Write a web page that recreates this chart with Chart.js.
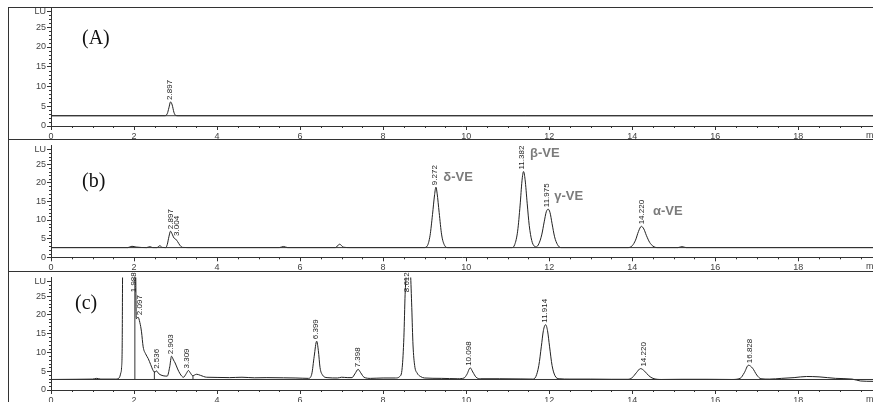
<!DOCTYPE html>
<html>
<head>
<meta charset="utf-8">
<script src="https://cdn.jsdelivr.net/npm/chart.js@4.4.0/dist/chart.umd.min.js"></script>
<style>
html,body{margin:0;padding:0;background:#fff;}
#wrap{position:relative;width:873px;height:402px;overflow:hidden;background:#fff;}
canvas{position:absolute;left:0;}
.hl{position:absolute;left:8px;width:865px;height:0;border-top:1px solid #333;}
.vl{position:absolute;left:8px;top:7px;height:395px;width:0;border-left:1px solid #333;}
.plab{position:absolute;font-family:"Liberation Serif","Times New Roman",serif;font-size:20px;line-height:20px;color:#111;}
</style>
</head>
<body>
<div id="wrap">
<canvas id="cA" width="873" height="139" style="top:0px"></canvas>
<canvas id="cB" width="873" height="132" style="top:139px"></canvas>
<canvas id="cC" width="873" height="131" style="top:271px"></canvas>
<div class="hl" style="top:7px"></div>
<div class="hl" style="top:139px"></div>
<div class="hl" style="top:271px"></div>
<div class="vl"></div>
<div class="plab" style="left:82px;top:27px">(A)</div>
<div class="plab" style="left:82px;top:170px">(b)</div>
<div class="plab" style="left:75px;top:292px">(c)</div>
</div>
<script>
// ---------- axis ticks ----------
const xTickValues = [0, 2, 4, 6, 8, 10, 12, 14, 16, 18];
const yTickValues = [0, 5, 10, 15, 20, 25, 29];
const yTickLabels = ['0', '5', '10', '15', '20', '25', 'LU'];
const X_MAX = 19.8, Y_MAX = 30;

// ---------- panel A (blank / standard solvent) ----------
const baselineA = 2.6;
const traceA = [[0,2.6],[2.74,2.6],[2.80,3.1],[2.84,4.6],[2.88,6.1],[2.92,5.3],[2.96,3.5],[3.00,2.7],[3.06,2.6],[19.8,2.6]];
const peakTimesA = [2.87];
const peakHeightsA = [6.1];
const peakTextsA = ['2.897'];

// ---------- panel b (tocopherol standards) ----------
const baselineB = 2.6;
const traceB = [[0,2.6],[1.85,2.6],[1.95,2.95],[2.05,2.75],[2.3,2.6],[2.38,2.85],[2.45,2.6],[2.55,2.6],[2.62,3.1],[2.68,2.65],
 [2.76,2.6],[2.80,3.4],[2.84,5.5],[2.88,7.0],[2.92,6.2],[2.96,5.2],[3.0,4.9],[3.05,4.2],[3.10,3.3],[3.17,2.65],[3.3,2.6],
 [5.5,2.6],[5.6,2.9],[5.7,2.6],[6.85,2.6],[6.95,3.5],[7.05,2.7],[7.2,2.6],
 [8.98,2.6],[9.06,3.0],[9.13,5.8],[9.19,11.5],[9.24,16.8],[9.272,18.8],[9.30,17.2],[9.35,12],[9.41,6.0],[9.48,3.2],[9.56,2.6],
 [11.1,2.6],[11.17,3.4],[11.24,7],[11.30,14],[11.345,20.5],[11.382,23.0],[11.42,20.8],[11.47,14.5],[11.52,8.5],[11.58,4.5],[11.64,3.0],
 [11.69,2.8],[11.75,3.6],[11.82,6.0],[11.88,9.5],[11.93,12.2],[11.975,12.9],[12.02,12.0],[12.07,9.0],[12.13,5.5],[12.20,3.4],[12.28,2.6],
 [13.9,2.6],[14.0,3.1],[14.08,4.6],[14.15,6.9],[14.22,8.3],[14.28,7.6],[14.34,5.9],[14.42,4.0],[14.5,3.0],[14.6,2.6],
 [15.1,2.6],[15.2,2.85],[15.3,2.6],[19.8,2.6]];
const peakTimesB = [2.89, 3.04, 9.25, 11.33, 11.95, 14.24];
const peakHeightsB = [7.0, 5.2, 18.8, 23.0, 12.9, 8.3];
const peakTextsB = ['2.897', '3.004', '9.272', '11.382', '11.975', '14.220'];
const compNames = ['δ-VE', 'β-VE', 'γ-VE', 'α-VE'];
const compTimes = [9.45, 11.54, 12.12, 14.5];
const compLevels = [21.4, 27.8, 16.4, 12.3];

// ---------- panel c (sample) ----------
const baselineC = 2.8;
const traceC = [[0,2.8],[0.6,2.85],[1.0,2.9],[1.1,3.1],[1.2,2.9],[1.55,2.9],[1.64,3.2],[1.68,4.5],[1.70,6.0],[1.715,12],[1.73,40],
 [2.03,40],[2.055,19.0],[2.097,19.4],[2.14,18.0],[2.18,15.5],[2.22,11.5],[2.28,9.6],[2.34,8.4],[2.40,6.8],[2.46,5.2],[2.50,4.7],[2.536,5.1],
 [2.60,4.3],[2.70,3.8],[2.80,3.7],[2.86,6.2],[2.903,9.0],[2.95,8.0],[2.99,7.2],[3.05,5.6],[3.11,4.3],[3.19,3.4],[3.26,4.4],[3.309,5.2],
 [3.36,4.5],[3.41,3.8],[3.51,4.2],[3.60,3.9],[3.75,3.4],[4.0,3.35],[4.3,3.3],[4.6,3.4],[4.9,3.25],[5.2,3.3],[5.6,3.25],[5.9,3.2],
 [6.2,3.1],[6.28,4.2],[6.34,9.0],[6.399,13.0],[6.44,10.5],[6.48,6.0],[6.54,4.0],[6.65,3.3],[6.9,3.2],[7.0,3.4],[7.15,3.3],[7.25,3.3],
 [7.32,4.3],[7.398,5.5],[7.46,4.6],[7.54,3.4],[7.7,3.1],[8.0,3.2],[8.3,3.2],[8.40,3.6],[8.46,6],[8.50,14],[8.53,25.5],[8.56,31],
 [8.612,36],[8.66,31],[8.69,22],[8.72,12],[8.76,6.5],[8.82,4.5],[8.9,3.6],[9.0,3.2],[9.4,3.1],[9.8,3.0],[9.95,3.2],[10.02,4.2],
 [10.098,5.9],[10.16,4.8],[10.24,3.4],[10.35,3.0],[10.8,3.0],[11.3,2.95],[11.6,2.9],[11.68,3.6],[11.75,6.5],[11.81,11.5],[11.86,15.8],
 [11.914,17.4],[11.96,15.8],[12.01,11.5],[12.07,6.5],[12.14,3.8],[12.24,3.0],[12.5,2.9],[13.0,2.9],[13.5,2.85],[13.9,2.85],[14.0,3.3],
 [14.1,4.6],[14.2,5.7],[14.3,5.0],[14.4,3.8],[14.5,3.1],[14.7,2.8],[15.2,2.85],[15.8,2.85],[16.4,2.8],[16.6,3.1],[16.7,4.6],[16.8,6.6],
 [16.9,5.8],[17.0,4.0],[17.1,3.0],[17.3,2.9],[17.6,3.1],[17.9,3.3],[18.2,3.6],[18.5,3.5],[18.9,3.1],[19.3,2.9],[19.5,2.4],[19.8,2.3]];
const dropTimesC = [2.02, 2.49, 3.42];
const dropTopsC = [40, 5.0, 3.9];
const peakTimesC = [2.0, 2.14, 2.55, 2.89, 3.28, 6.39, 7.40, 8.56, 10.07, 11.90, 14.27, 16.84];
const peakHeightsC = [25.5, 19.4, 5.1, 9.0, 5.2, 13.0, 5.5, 25.5, 5.9, 17.4, 5.7, 6.6];
const peakTextsC = ['1.988', '2.097', '2.536', '2.903', '3.309', '6.399', '7.398', '8.612', '10.098', '11.914', '14.220', '16.828'];

// ---------- drawing ----------
const FONT = '"Liberation Sans", Arial, sans-serif';
const INK = '#222';

const decoPlugin = {
  id: 'deco',
  afterDraw(chart, args, o) {
    const ctx = chart.ctx, xs = chart.scales.x, ys = chart.scales.y, a = chart.chartArea;
    ctx.save();
    // minor ticks
    ctx.strokeStyle = '#333'; ctx.lineWidth = 1;
    ctx.beginPath();
    for (let v = 0.5; v < X_MAX; v += 0.5) {
      if (Math.abs(v / 2 - Math.round(v / 2)) < 1e-6) continue;
      const px = Math.round(xs.getPixelForValue(v)) + 0.5;
      ctx.moveTo(px, a.bottom); ctx.lineTo(px, a.bottom + 2);
    }
    for (let v = 1; v < 29; v += 1) {
      if (v % 5 === 0) continue;
      const py = Math.round(ys.getPixelForValue(v)) + 0.5;
      ctx.moveTo(a.left - 2, py); ctx.lineTo(a.left, py);
    }
    ctx.stroke();
    // unit label at right end of time axis
    ctx.fillStyle = '#444';
    ctx.font = '9px ' + FONT;
    ctx.textAlign = 'left'; ctx.textBaseline = 'top';
    ctx.fillText('min', a.right - 7, a.bottom + 5);
    // peak retention-time labels (rotated)
    ctx.fillStyle = INK;
    ctx.font = '8px ' + FONT;
    ctx.textBaseline = 'middle';
    (o.times || []).forEach((t, i) => {
      const px = xs.getPixelForValue(t), py = ys.getPixelForValue(o.heights[i]);
      ctx.save();
      ctx.translate(px, py - 2);
      ctx.rotate(-Math.PI / 2);
      ctx.textAlign = 'left';
      ctx.fillText(o.texts[i], 0, 0);
      ctx.restore();
    });
    // component names
    ctx.fillStyle = '#7b7b7b';
    ctx.font = 'bold 13px ' + FONT;
    ctx.textAlign = 'left'; ctx.textBaseline = 'middle';
    (o.names || []).forEach((n, i) => {
      ctx.fillText(n, xs.getPixelForValue(o.nameTimes[i]), ys.getPixelForValue(o.nameLevels[i]));
    });
    ctx.restore();
  }
};

function lineSet(points, extra) {
  return Object.assign({
    data: points.map(p => ({ x: p[0], y: p[1] })),
    borderColor: INK, borderWidth: 1, pointRadius: 0, fill: false, tension: 0
  }, extra || {});
}

function build(id, trace, base, dropT, dropY, deco, padTop, axisH) {
  const datasets = [
    lineSet([[0, base], [X_MAX, base]], { borderColor: '#333' }),
    lineSet(trace, { cubicInterpolationMode: 'monotone' })
  ];
  (dropT || []).forEach((t, i) => datasets.push(lineSet([[t, base], [t, dropY[i]]], { borderColor: '#333' })));
  new Chart(document.getElementById(id), {
    type: 'line',
    data: { datasets },
    options: {
      responsive: false, animation: false, devicePixelRatio: 1,
      layout: { padding: { left: 8, right: 0, top: padTop, bottom: 0 } },
      plugins: { legend: { display: false }, tooltip: { enabled: false }, deco },
      scales: {
        x: {
          type: 'linear', min: 0, max: X_MAX,
          afterBuildTicks: s => { s.ticks = xTickValues.map(v => ({ value: v })); },
          afterFit: s => { s.height = axisH; },
          ticks: { autoSkip: false, maxRotation: 0, padding: 1, color: '#444', font: { family: FONT, size: 9 }, callback: v => String(v) },
          grid: { drawOnChartArea: false, tickLength: 4, color: '#333' },
          border: { color: '#333', width: 1 }
        },
        y: {
          type: 'linear', min: 0, max: Y_MAX,
          afterBuildTicks: s => { s.ticks = yTickValues.map(v => ({ value: v })); },
          afterFit: s => { s.width = 43; },
          ticks: { autoSkip: false, padding: 1, color: '#444', font: { family: FONT, size: 9 }, callback: (v, i) => yTickLabels[i] },
          grid: { drawOnChartArea: false, tickLength: 4, color: '#333' },
          border: { color: '#333', width: 1 }
        }
      }
    },
    plugins: [decoPlugin]
  });
}

build('cA', traceA, baselineA, [], [], { times: peakTimesA, heights: peakHeightsA, texts: peakTextsA }, 7.5, 13);
build('cB', traceB, baselineB, [], [], { times: peakTimesB, heights: peakHeightsB, texts: peakTextsB, names: compNames, nameTimes: compTimes, nameLevels: compLevels }, 0.2, 13.7);
build('cC', traceC, baselineC, dropTimesC, dropTopsC, { times: peakTimesC, heights: peakHeightsC, texts: peakTextsC }, 0.5, 12);
</script>
</body>
</html>
